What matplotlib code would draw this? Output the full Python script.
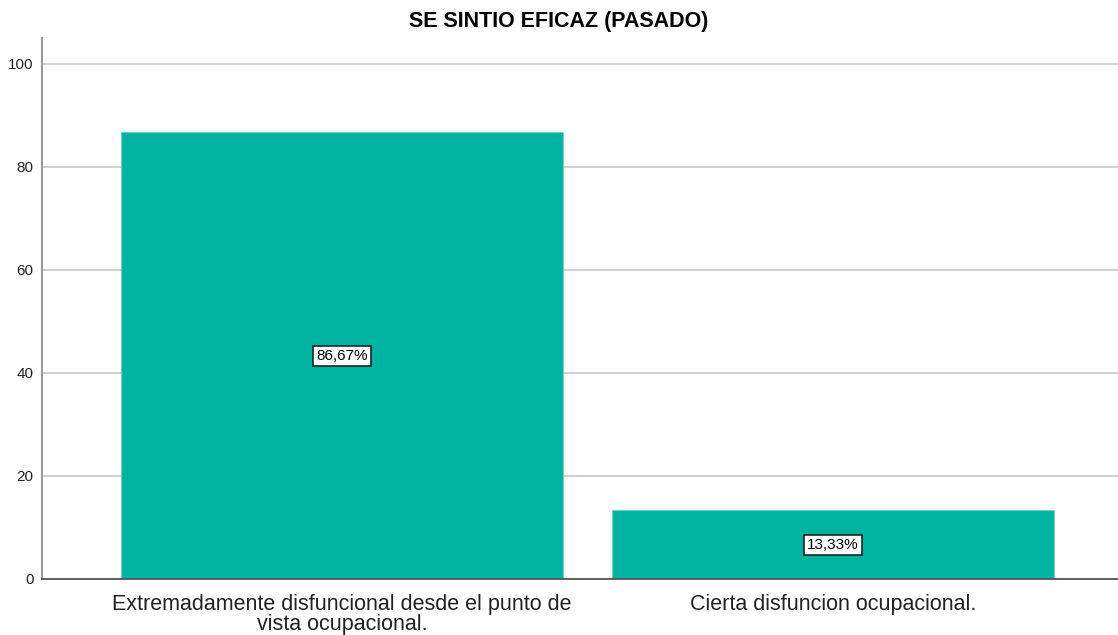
import matplotlib
matplotlib.use("Agg")
import matplotlib.pyplot as plt

categories = ["Extremadamente disfuncional desde el punto de\nvista ocupacional.",
              "Cierta disfuncion ocupacional."]
percentages = [86.67, 13.33]
labels = ["86,67%", "13,33%"]
yticks = [0, 20, 40, 60, 80, 100]

plt.rcParams["font.family"] = ["Liberation Sans", "DejaVu Sans"]

fig = plt.figure(figsize=(11.18, 6.35), dpi=100)
ax = fig.add_axes([42 / 1118, 56 / 635, 1 - 42 / 1118, (579 - 38) / 635])

x = range(len(categories))
ax.bar(x, percentages, width=0.9, color="#00B2A0", edgecolor="#6fd3c6", linewidth=0.6, zorder=2)

for xi, val, lab in zip(x, percentages, labels):
    ax.text(xi, val / 2, lab, ha="center", va="center", fontsize=11, zorder=3,
            bbox=dict(boxstyle="square,pad=0.2", facecolor="white", edgecolor="#222222", linewidth=1.2))

ax.set_xlim(-0.611, 1.58)
ax.set_ylim(0, 105)
ax.set_yticks(yticks)
ax.set_yticklabels([str(t) for t in yticks], fontsize=11, color="#222222")
ax.set_xticks(list(x))
ax.set_xticklabels(categories, fontsize=15.5, color="#222222", linespacing=0.92)
ax.tick_params(axis="x", length=0, pad=11)
ax.tick_params(axis="y", length=0, pad=6)

ax.yaxis.grid(True, color="#cccccc", linewidth=1.3, zorder=0)
ax.set_axisbelow(True)
for side in ["top", "right"]:
    ax.spines[side].set_visible(False)
ax.spines["left"].set_color("#999999")
ax.spines["left"].set_linewidth(1.5)
ax.spines["bottom"].set_color("#555555")
ax.spines["bottom"].set_linewidth(1.3)

fig.text(0.5, 1 - 21 / 635, "SE SINTIO EFICAZ (PASADO)", ha="center", va="center",
         fontsize=15.5, fontweight="bold")

fig.savefig("out.png", dpi=100)
